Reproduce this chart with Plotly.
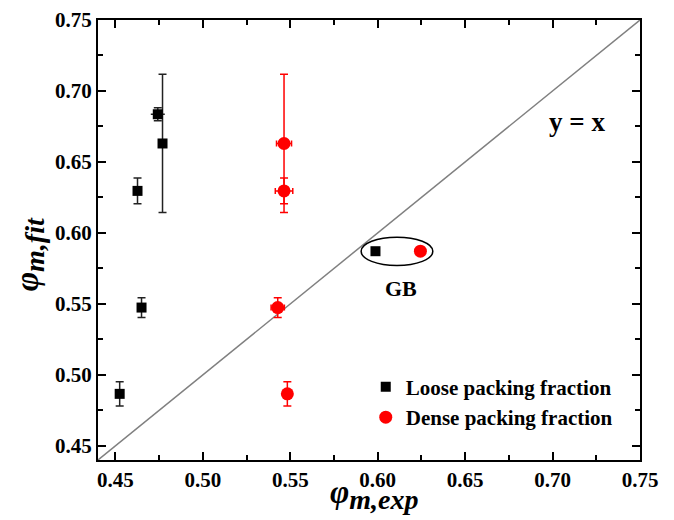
import plotly.graph_objects as go

# Loose packing fraction (black squares)
loose_x = [0.4524, 0.4649, 0.4626, 0.4742, 0.4769, 0.5987]
loose_y = [0.4866, 0.5474, 0.6296, 0.6836, 0.6630, 0.5871]
loose_yerr = [0.0086, 0.0070, 0.0090, 0.0045, 0.0487, 0.0]
loose_xerr = [0.0, 0.0, 0.0, 0.0040, 0.0, 0.0]

# Dense packing fraction (red circles)
dense_x = [0.5483, 0.5428, 0.5464, 0.5464, 0.6244]
dense_y = [0.4866, 0.5474, 0.6296, 0.6630, 0.5871]
dense_yerr = [0.0086, 0.0070, 0.0090, 0.0487, 0.0]
dense_xerr = [0.0, 0.0038, 0.0050, 0.0043, 0.0]

# Axis range, shared by both axes and by the y = x line
axis_range = [0.44, 0.75]
tick_vals = [0.45, 0.50, 0.55, 0.60, 0.65, 0.70, 0.75]
tick_labels = ["0.45", "0.50", "0.55", "0.60", "0.65", "0.70", "0.75"]
minor_vals = [0.475, 0.525, 0.575, 0.625, 0.675, 0.725]

FONT = "Liberation Serif"

fig = go.Figure()

fig.add_trace(go.Scatter(
    x=axis_range, y=axis_range, mode="lines",
    line=dict(color="#808080", width=1.5),
    showlegend=False, hoverinfo="skip",
))

fig.add_trace(go.Scatter(
    x=loose_x, y=loose_y, mode="markers",
    name="<b>Loose packing fraction</b>",
    marker=dict(symbol="square", size=10, color="black"),
    error_y=dict(type="data", array=loose_yerr, visible=True,
                 color="#222222", thickness=1.5, width=4),
    error_x=dict(type="data", array=loose_xerr, visible=True,
                 color="#222222", thickness=1.5, width=0),
))

fig.add_trace(go.Scatter(
    x=dense_x, y=dense_y, mode="markers",
    name="<b>Dense packing fraction</b>",
    marker=dict(symbol="circle", size=13, color="red"),
    error_y=dict(type="data", array=dense_yerr, visible=True,
                 color="red", thickness=1.5, width=4),
    error_x=dict(type="data", array=dense_xerr, visible=True,
                 color="red", thickness=1.5, width=3),
))

# Ellipse around the GB pair
fig.add_shape(type="circle", xref="x", yref="y",
              x0=0.5905, x1=0.6315, y0=0.577, y1=0.597,
              line=dict(color="black", width=1.5))

fig.add_annotation(x=0.6134, y=0.5608, text="<b>GB</b>", showarrow=False,
                   font=dict(family=FONT, size=22, color="black"))
fig.add_annotation(x=0.7139, y=0.678, text="<b>y = x</b>", showarrow=False,
                   font=dict(family=FONT, size=27, color="black"))


def axis_title(sub):
    return ('<b><i><span style="font-size:33px">φ</span>'
            '<sub><span style="font-size:28px">%s</span></sub></i></b>' % sub)


# Axis titles placed as paper-anchored text
fig.add_annotation(xref="paper", yref="paper", x=0.511, y=-0.079,
                   xanchor="center", yanchor="middle",
                   text=axis_title("m,exp"), showarrow=False,
                   font=dict(family=FONT, size=28, color="black"))
fig.add_annotation(xref="paper", yref="paper", x=-0.127, y=0.468,
                   xanchor="center", yanchor="middle",
                   text=axis_title("m,fit"), showarrow=False, textangle=-90,
                   font=dict(family=FONT, size=28, color="black"))

axis_common = dict(
    range=axis_range, automargin=False,
    tickmode="array", tickvals=tick_vals,
    ticktext=["<b>%s</b>" % t for t in tick_labels],
    ticks="inside", ticklen=8, tickwidth=2, tickcolor="black",
    minor=dict(ticks="inside", ticklen=5, tickwidth=1.5, tickcolor="black",
               tickmode="array", tickvals=minor_vals),
    showline=True, linecolor="black", linewidth=2, mirror="ticks",
    showgrid=False, zeroline=False,
    tickfont=dict(family=FONT, size=21, color="black"),
)

fig.update_xaxes(**axis_common)
fig.update_yaxes(**axis_common)

fig.update_layout(
    width=674, height=520,
    margin=dict(l=98, r=34, t=20, b=60),
    paper_bgcolor="white", plot_bgcolor="white",
    legend=dict(x=0.494, y=0.212, xanchor="left", yanchor="top",
                bgcolor="rgba(0,0,0,0)",
                font=dict(family=FONT, size=21, color="black"),
                itemsizing="trace", tracegroupgap=0),
)

fig.write_html("out.html")
